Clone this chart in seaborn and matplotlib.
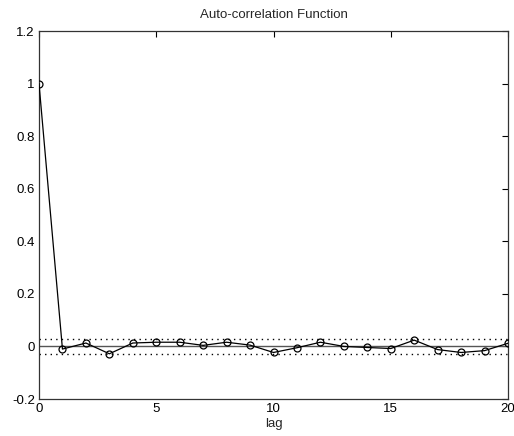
import numpy as np
import pandas as pd
import matplotlib
matplotlib.use("Agg")
import matplotlib.pyplot as plt
import seaborn as sns

lags = list(range(0, 21))
acf = [1.0, -0.010, 0.013, -0.028, 0.013, 0.016, 0.016, 0.004, 0.016, 0.005,
       -0.023, -0.005, 0.016, 0.000, -0.004, -0.008, 0.024, -0.012, -0.023, -0.016, 0.012]
conf = 0.03
xticks = [0, 5, 10, 15, 20]
yticks = [-0.2, 0, 0.2, 0.4, 0.6, 0.8, 1, 1.2]
ytick_labels = ["-0.2", "0", "0.2", "0.4", "0.6", "0.8", "1", "1.2"]

sns.set_style("white")
plt.rcParams['font.family'] = ['Liberation Sans', 'DejaVu Sans']

df = pd.DataFrame({"lag": lags, "acf": acf})

fig = plt.figure(figsize=(5.14, 4.36), dpi=100)
ax = fig.add_axes([39/514, 37/436, 469/514, 368/436])

ax.axhline(0, color="#555555", lw=1.0, zorder=1)
ax.axhline(conf, color="black", lw=1.0, ls=(0, (1, 3)), zorder=1)
ax.axhline(-conf, color="black", lw=1.0, ls=(0, (1, 3)), zorder=1)
sns.lineplot(data=df, x="lag", y="acf", ax=ax, color="black", lw=0.9,
             marker="o", markersize=5, markerfacecolor="none",
             markeredgecolor="black", markeredgewidth=0.9, zorder=3)

ax.set_xlim(0, 20)
ax.set_ylim(-0.2, 1.2)
ax.set_xticks(xticks)
ax.set_xticklabels([str(t) for t in xticks])
ax.set_yticks(yticks)
ax.set_yticklabels(ytick_labels)
ax.tick_params(direction="in", length=4, width=0.8, labelsize=9.5, colors="black",
               top=True, right=True, pad=3)
for s in ax.spines.values():
    s.set_color("#333333")
    s.set_linewidth(0.9)
ax.set_xlabel("lag", fontsize=9.5, labelpad=2)
ax.set_ylabel("")
ax.set_title("Auto-correlation Function", fontsize=9.5, pad=9)

fig.savefig("out.png", dpi=100)
